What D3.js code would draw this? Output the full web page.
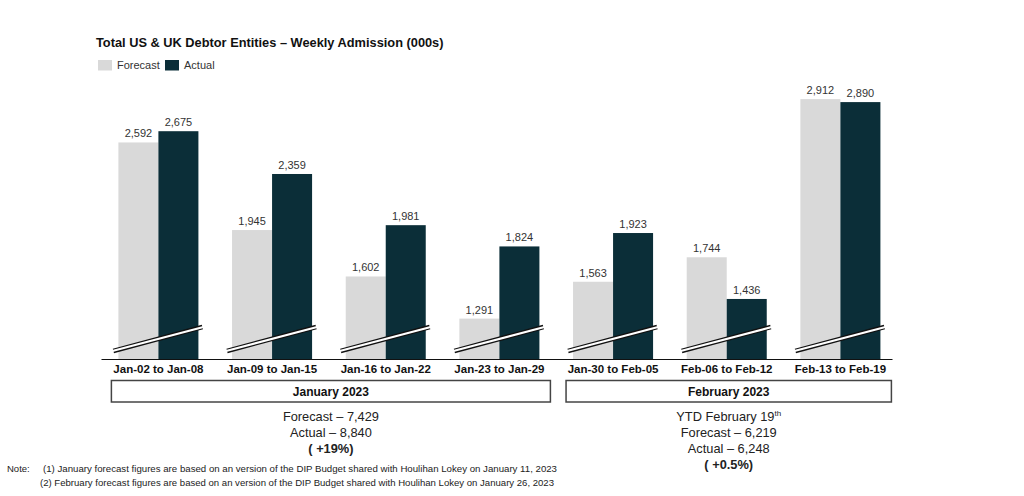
<!DOCTYPE html>
<html>
<head>
<meta charset="utf-8">
<script src="https://cdn.jsdelivr.net/npm/d3@7"></script>
<style>
  body { margin: 0; background: #fff; }
  svg { display: block; font-family: "Liberation Sans", Arial, sans-serif; }
</style>
</head>
<body>
<div id="chart"></div>
<script>
// Chart data
const weeks = ["Jan-02 to Jan-08", "Jan-09 to Jan-15", "Jan-16 to Jan-22", "Jan-23 to Jan-29",
               "Jan-30 to Feb-05", "Feb-06 to Feb-12", "Feb-13 to Feb-19"];
const series = ["Forecast", "Actual"];
const forecast = [2592, 1945, 1602, 1291, 1563, 1744, 2912];
const actual = [2675, 2359, 1981, 1824, 1923, 1436, 2890];

const monthLabels = ["January 2023", "February 2023"];
const monthSpans = [[0, 3], [4, 6]];
const monthSummary = [
    ["Forecast – 7,429", "Actual – 8,840", "( +19%)"],
    ["YTD February 19|th", "Forecast – 6,219", "Actual – 6,248", "( +0.5%)"]
];
const notes = [
    "(1) January forecast figures are based on an version of the DIP Budget shared with Houlihan Lokey on January 11, 2023",
    "(2) February forecast figures are based on an version of the DIP Budget shared with Houlihan Lokey on January 26, 2023"
];

const colors = { Forecast: "#d9d9d9", Actual: "#0b2e38" };

const width = 1024, height = 496;
const baseY = 359;

const svg = d3.select("#chart").append("svg")
    .attr("width", width)
    .attr("height", height);

// Title
svg.append("text")
    .attr("x", 96)
    .attr("y", 46.5)
    .style("font-size", "12.8px")
    .style("font-weight", "bold")
    .style("fill", "#111")
    .text("Total US & UK Debtor Entities – Weekly Admission (000s)");

// Legend
const legend = svg.selectAll(".legend")
    .data(series)
    .join("g")
    .attr("class", "legend")
    .attr("transform", (d, i) => `translate(${i == 0 ? 98 : 165}, 60)`);
legend.append("rect")
    .attr("width", 14)
    .attr("height", 10.5)
    .style("fill", d => colors[d]);
legend.append("text")
    .attr("x", 19)
    .attr("y", 8.8)
    .style("font-size", "11px")
    .style("fill", "#333")
    .text(d => d);

// Scales (broken axis, starts at 1,000)
const x0 = d3.scaleBand()
    .domain(weeks)
    .range([101, 892])
    .paddingInner(0.296)
    .paddingOuter(0.1275)
    .align(0.6);

const x1 = d3.scaleBand()
    .domain(series)
    .range([0, x0.bandwidth()]);

const y = d3.scaleLinear()
    .domain([1000, 3000])
    .range([baseY - 1, baseY - 1 - 270.8]);

const rows = weeks.map((w, i) => ({ week: w, Forecast: forecast[i], Actual: actual[i] }));

// Bars
const groups = svg.selectAll(".grp")
    .data(rows)
    .join("g")
    .attr("class", "grp")
    .attr("transform", d => `translate(${x0(d.week)},0)`);

groups.selectAll("rect")
    .data(d => series.map(s => ({ key: s, value: d[s] })))
    .join("rect")
    .attr("x", d => x1(d.key))
    .attr("y", d => y(d.value))
    .attr("width", x1.bandwidth())
    .attr("height", d => baseY - y(d.value))
    .style("fill", d => colors[d.key]);

groups.selectAll(".val")
    .data(d => series.map(s => ({ key: s, value: d[s] })))
    .join("text")
    .attr("class", "val")
    .attr("x", d => x1(d.key) + x1.bandwidth() / 2)
    .attr("y", d => y(d.value) - 5)
    .attr("text-anchor", "middle")
    .style("font-size", "11px")
    .style("fill", "#333")
    .text(d => d3.format(",")(d.value));

// Axis-break marks
const bw = x0.bandwidth();
groups.append("line")
    .attr("x1", -5).attr("y1", baseY - 8)
    .attr("x2", bw + 4).attr("y2", baseY - 32)
    .style("stroke", "#111")
    .style("stroke-width", 4.6);
groups.append("line")
    .attr("x1", -6).attr("y1", baseY - 8)
    .attr("x2", bw + 5).attr("y2", baseY - 32)
    .style("stroke", "#fff")
    .style("stroke-width", 2.2);

// X axis
const xAxis = svg.append("g")
    .attr("transform", `translate(0,${baseY})`)
    .call(d3.axisBottom(x0).tickSize(0).tickSizeOuter(0).tickPadding(6));
xAxis.select(".domain").style("stroke", "#111").style("stroke-width", 1.2);
xAxis.selectAll("text")
    .style("font-family", "'Liberation Sans', Arial, sans-serif")
    .style("font-size", "11.5px")
    .style("font-weight", "bold")
    .style("fill", "#111");

// Month boxes and summaries
monthLabels.forEach((label, m) => {
    const left = x0(weeks[monthSpans[m][0]]) - 7;
    const right = x0(weeks[monthSpans[m][1]]) + bw + 11;
    const cx = (left + right) / 2;
    svg.append("rect")
        .attr("x", left)
        .attr("y", 380.5)
        .attr("width", right - left)
        .attr("height", 21.5)
        .style("fill", "none")
        .style("stroke", "#444")
        .style("stroke-width", 1.5);
    svg.append("text")
        .attr("x", cx)
        .attr("y", 396)
        .attr("text-anchor", "middle")
        .style("font-size", "12px")
        .style("font-weight", "bold")
        .style("fill", "#111")
        .text(label);

    monthSummary[m].forEach((line, i) => {
        const last = i == monthSummary[m].length - 1;
        const t = svg.append("text")
            .attr("x", cx)
            .attr("y", 420.5 + i * 16)
            .attr("text-anchor", "middle")
            .style("font-size", "12.8px")
            .style("font-weight", last ? "bold" : "normal")
            .style("fill", "#222");
        const parts = line.split("|");
        t.append("tspan").text(parts[0]);
        if (parts[1]) {
            t.append("tspan")
                .attr("dy", -5)
                .style("font-size", "8px")
                .text(parts[1]);
        }
    });
});

// Notes
svg.append("text")
    .attr("x", 7)
    .attr("y", 472)
    .style("font-size", "9.5px")
    .style("fill", "#222")
    .text("Note:");
notes.forEach((n, i) => {
    svg.append("text")
        .attr("x", i == 0 ? 43 : 40)
        .attr("y", 472 + i * 13.5)
        .style("font-size", "9.5px")
        .style("fill", "#222")
        .attr("textLength", 514)
        .attr("lengthAdjust", "spacingAndGlyphs")
        .text(n);
});
</script>
</body>
</html>
